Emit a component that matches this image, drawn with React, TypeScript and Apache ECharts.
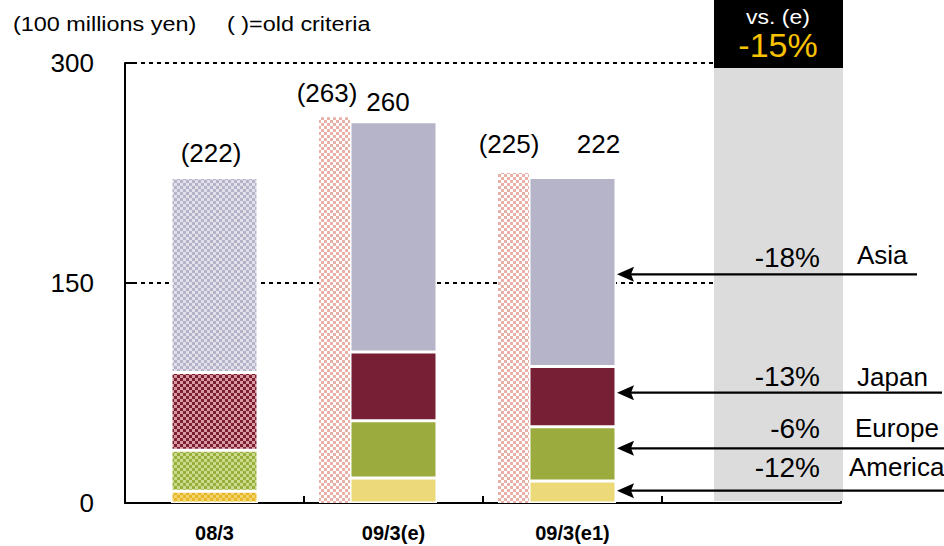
import React, { useEffect, useRef } from 'react';
import * as echarts from 'echarts';

// ---------- data ----------
const categories = ['08/3', '09/3(e)', '09/3(e1)', ''];
const regions = ['America', 'Europe', 'Japan', 'Asia']; // bottom to top
const americaValues = [8, 17, 15];
const europeValues = [28, 39, 37];
const japanValues = [53, 47, 41];
const asiaValues = [133, 157, 129];
const oldCriteriaTotals: (number | null)[] = [null, 263, 225];
const changeLabels = ['-12%', '-6%', '-13%', '-18%']; // America, Europe, Japan, Asia
const totalChangeTitle = 'vs. (e)';
const totalChangeLabel = '-15%';
const yMin = 0;
const yMax = 300;
const yInterval = 150;
const unitNote = '(100 millions yen)';
const oldNote = '( )=old criteria';

// ---------- styles / layout ----------
const FONT = '"Liberation Sans", Arial, sans-serif';
const solidColors = ['#ecda7a', '#9bab3d', '#761f35', '#b6b4c9'];
const checkerColors = [
  ['#e6b628', '#f3d56e'],
  ['#9aae3c', '#cbdb8e'],
  ['#7a1f36', '#d99a9f'],
  ['#b5b3ca', '#e2e1ea'],
];
const oldChecker = ['#e8b1a7', '#ffffff'];
// label shifts [dx, dy] relative to bar top centre
const totalLabelShift = [[-3.5, -11], [-5.5, -7], [26, -20]];
const oldLabelShift = [[0, 0], [-7.5, -11], [-4.5, -16]];
// annotation rows (America, Europe, Japan, Asia)
const arrowY = [490.7, 448.3, 392.7, 274.3];
const arrowEndX = [944, 944, 942, 917];
const pctY = [467, 428, 376, 257];
const nameX = [849, 855, 857, 857];
const nameY = [467, 428, 377, 255];

function makeChecker(fg: string, bg: string) {
  const c = document.createElement('canvas');
  c.width = 6;
  c.height = 6;
  const ctx = c.getContext('2d')!;
  ctx.fillStyle = bg;
  ctx.fillRect(0, 0, 6, 6);
  ctx.fillStyle = fg;
  ctx.fillRect(0, 0, 3, 3);
  ctx.fillRect(3, 3, 3, 3);
  return { image: c.toDataURL(), repeat: 'repeat', imageWidth: 6, imageHeight: 6 } as any;
}

export default function App() {
  const ref = useRef<HTMLDivElement>(null);

  useEffect(() => {
    if (!ref.current) return;
    const chart = echarts.init(ref.current, null, { renderer: 'svg' });
    const regionValues = [americaValues, europeValues, japanValues, asiaValues];
    const totals = americaValues.map((_, j) => regionValues.reduce((s, arr) => s + arr[j], 0));
    const oldPattern = makeChecker(oldChecker[0], oldChecker[1]);
    const checkerPatterns = checkerColors.map(([fg, bg]) => makeChecker(fg, bg));

    const series: any[] = [];
    series.push({
      name: 'old criteria',
      type: 'bar',
      stack: 'old',
      barWidth: 31,
      barGap: '0%',
      data: oldCriteriaTotals
        .map((v, j) =>
          v == null
            ? '-'
            : { value: v, label: { offset: oldLabelShift[j] } }
        )
        .concat(['-'] as any),
      itemStyle: { color: oldPattern },
      label: {
        show: true,
        position: 'top',
        distance: 0,
        fontSize: 26,
        fontFamily: FONT,
        color: '#000',
        formatter: (p: any) => `(${p.value})`,
      },
    });
    regions.forEach((r, i) => {
      const isTop = i === regions.length - 1;
      series.push({
        name: r,
        type: 'bar',
        stack: 'new',
        barWidth: 87,
        barGap: '0%',
        data: regionValues[i]
          .map((v, j) => {
            const item: any = { value: v };
            if (j === 0) item.itemStyle = { color: checkerPatterns[i] };
            if (isTop) item.label = { offset: totalLabelShift[j] };
            return item;
          })
          .concat(['-'] as any),
        itemStyle: { color: solidColors[i], borderColor: '#ffffff', borderWidth: 1.5 },
        label: isTop
          ? {
              show: true,
              position: 'top',
              distance: 0,
              fontSize: 26,
              fontFamily: FONT,
              color: '#000',
              formatter: (p: any) =>
                p.dataIndex === 0 ? `(${totals[p.dataIndex]})` : `${totals[p.dataIndex]}`,
            }
          : { show: false },
      });
    });
    series.push({
      name: 'pad',
      type: 'bar',
      stack: 'pad',
      barWidth: 31,
      barGap: '0%',
      data: categories.map(() => '-'),
    });

    const graphics: any[] = [
      { type: 'rect', z: 5, shape: { x: 714, y: 0, width: 129, height: 68 }, style: { fill: '#000' } },
      { type: 'rect', z: 5, shape: { x: 714, y: 68, width: 129, height: 433 }, style: { fill: '#dcdcdc' } },
      {
        type: 'text', z: 10, x: 13, y: 25, scaleX: 1.2,
        style: { text: unitNote, fontSize: 19.5, fontFamily: FONT, fill: '#000', textAlign: 'left', textVerticalAlign: 'middle', align: 'left', verticalAlign: 'middle' },
      },
      {
        type: 'text', z: 10, x: 227, y: 25, scaleX: 1.2,
        style: { text: oldNote, fontSize: 19.5, fontFamily: FONT, fill: '#000', textAlign: 'left', textVerticalAlign: 'middle', align: 'left', verticalAlign: 'middle' },
      },
      {
        type: 'text', z: 10, x: 778, y: 17, scaleX: 1.15,
        style: { text: totalChangeTitle, fontSize: 20, fontFamily: FONT, fill: '#ffffff', textAlign: 'center', textVerticalAlign: 'middle', align: 'center', verticalAlign: 'middle' },
      },
      {
        type: 'text', z: 10, x: 778, y: 45,
        style: { text: totalChangeLabel, fontSize: 34, fontFamily: FONT, fill: '#f8c200', textAlign: 'center', textVerticalAlign: 'middle', align: 'center', verticalAlign: 'middle' },
      },
    ];
    regions.forEach((r, i) => {
      const y = arrowY[i];
      graphics.push({
        type: 'line', z: 10,
        shape: { x1: 630, y1: y, x2: arrowEndX[i], y2: y },
        style: { stroke: '#000', lineWidth: 2.3 },
      });
      graphics.push({
        type: 'polygon', z: 10,
        shape: { points: [[617, y], [634, y - 7.5], [631, y], [634, y + 7.5]] },
        style: { fill: '#000' },
      });
      graphics.push({
        type: 'text', z: 10, x: 820, y: pctY[i],
        style: { text: changeLabels[i], fontSize: 28, fontFamily: FONT, fill: '#000', textAlign: 'right', textVerticalAlign: 'middle', align: 'right', verticalAlign: 'middle' },
      });
      graphics.push({
        type: 'text', z: 10, x: nameX[i], y: nameY[i],
        style: { text: r, fontSize: 26, fontFamily: FONT, fill: '#000', textAlign: 'left', textVerticalAlign: 'middle', align: 'left', verticalAlign: 'middle' },
      });
    });

    chart.setOption({
      animation: false,
      textStyle: { fontFamily: FONT },
      grid: { left: 125, right: 103, top: 63, bottom: 43, containLabel: false },
      xAxis: {
        type: 'category',
        data: categories,
        axisLine: { show: true, lineStyle: { color: '#000', width: 2 } },
        axisTick: { show: true, inside: true, length: 7, interval: 0, alignWithLabel: false, lineStyle: { color: '#000', width: 2 } },
        axisLabel: { interval: 0, fontSize: 20, fontWeight: 'bold', color: '#000', margin: 20, fontFamily: FONT },
        splitLine: { show: false },
      },
      yAxis: {
        type: 'value',
        min: yMin,
        max: yMax,
        interval: yInterval,
        axisLine: { show: true, lineStyle: { color: '#000', width: 2 } },
        axisTick: { show: true, inside: true, length: 8, lineStyle: { color: '#000', width: 2 } },
        axisLabel: { fontSize: 26, color: '#000', margin: 31, fontFamily: FONT },
        splitLine: { show: true, lineStyle: { color: '#000', width: 2, type: [4, 4] } },
      },
      series,
      graphic: { elements: graphics },
    });
    return () => chart.dispose();
  }, []);

  return (
    <div
      ref={ref}
      style={{ position: 'absolute', left: 0, top: 0, width: 944, height: 546, background: '#fff' }}
    />
  );
}
